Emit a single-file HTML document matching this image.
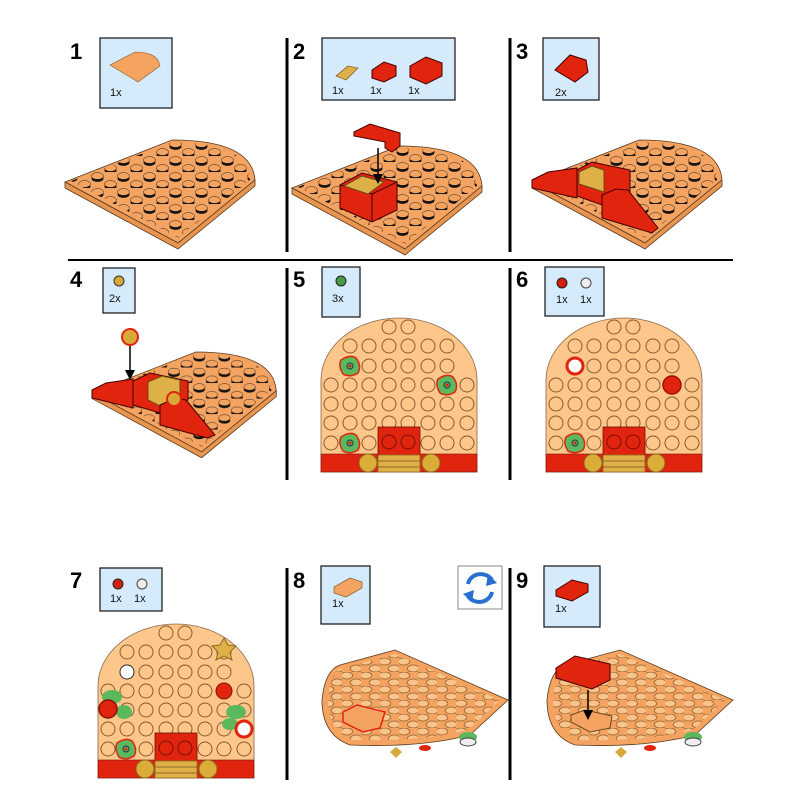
<!DOCTYPE html>
<html><head><meta charset="utf-8"><style>
html,body{margin:0;padding:0;background:#fff}
svg{display:block}
text{font-family:"Liberation Sans",sans-serif}
</style></head><body>
<svg width="793" height="788" viewBox="0 0 793 788" xmlns="http://www.w3.org/2000/svg">
<defs>
<pattern id="iso" width="26" height="16" patternUnits="userSpaceOnUse">
<ellipse cx="6.5" cy="6.5" rx="6" ry="3.4" fill="#111"/>
<ellipse cx="6.5" cy="4" rx="6" ry="3.4" fill="#f4a460" stroke="#222" stroke-width="0.5"/>
<ellipse cx="19.5" cy="14.5" rx="6" ry="3.4" fill="#111"/>
<ellipse cx="19.5" cy="12" rx="6" ry="3.4" fill="#f4a460" stroke="#222" stroke-width="0.5"/>
</pattern>
<pattern id="under" width="19" height="14" patternUnits="userSpaceOnUse">
<ellipse cx="4.75" cy="3.5" rx="6" ry="3.5" fill="#f8c48c" stroke="#a8703a" stroke-width="1"/>
<ellipse cx="14.25" cy="10.5" rx="6" ry="3.5" fill="#f8c48c" stroke="#a8703a" stroke-width="1"/>
</pattern>
<g id="top">
<path d="M0,154 L0,62 A78,62 0 0 1 156,62 L156,154 Z" fill="#fdc68a" stroke="#8a6a4a" stroke-width="0.8"/>
<g fill="none" stroke="#8a5a30" stroke-width="1">
<circle cx="68" cy="9" r="7"/><circle cx="87" cy="9" r="7"/>
<circle cx="29" cy="28" r="7"/><circle cx="48" cy="28" r="7"/><circle cx="68" cy="28" r="7"/><circle cx="87" cy="28" r="7"/><circle cx="107" cy="28" r="7"/><circle cx="126" cy="28" r="7"/>
<circle cx="29" cy="48" r="7"/><circle cx="48" cy="48" r="7"/><circle cx="68" cy="48" r="7"/><circle cx="87" cy="48" r="7"/><circle cx="107" cy="48" r="7"/><circle cx="126" cy="48" r="7"/>
<circle cx="10" cy="67" r="7"/><circle cx="29" cy="67" r="7"/><circle cx="48" cy="67" r="7"/><circle cx="68" cy="67" r="7"/><circle cx="87" cy="67" r="7"/><circle cx="107" cy="67" r="7"/><circle cx="126" cy="67" r="7"/><circle cx="146" cy="67" r="7"/>
<circle cx="10" cy="86" r="7"/><circle cx="29" cy="86" r="7"/><circle cx="48" cy="86" r="7"/><circle cx="68" cy="86" r="7"/><circle cx="87" cy="86" r="7"/><circle cx="107" cy="86" r="7"/><circle cx="126" cy="86" r="7"/><circle cx="146" cy="86" r="7"/>
<circle cx="10" cy="105" r="7"/><circle cx="29" cy="105" r="7"/><circle cx="48" cy="105" r="7"/><circle cx="68" cy="105" r="7"/><circle cx="87" cy="105" r="7"/><circle cx="107" cy="105" r="7"/><circle cx="126" cy="105" r="7"/><circle cx="146" cy="105" r="7"/>
<circle cx="10" cy="125" r="7"/><circle cx="29" cy="125" r="7"/><circle cx="48" cy="125" r="7"/><circle cx="107" cy="125" r="7"/><circle cx="126" cy="125" r="7"/><circle cx="146" cy="125" r="7"/>
</g>
<rect x="0" y="136" width="156" height="18" fill="#e0240e" stroke="#7a1a10" stroke-width="0.6"/>
<rect x="57" y="109" width="42" height="30" fill="#e0240e" stroke="#6a1008" stroke-width="0.8"/>
<circle cx="68" cy="124" r="7" fill="none" stroke="#7a1008"/><circle cx="87" cy="124" r="7" fill="none" stroke="#7a1008"/>
<rect x="57" y="137" width="42" height="17" fill="#e0b048" stroke="#8a6a20" stroke-width="0.8"/>
<line x1="57" y1="143" x2="99" y2="143" stroke="#8a6a20"/><line x1="57" y1="149" x2="99" y2="149" stroke="#8a6a20"/>
<circle cx="47" cy="145" r="9" fill="#dcac38" stroke="#8a6a20"/><circle cx="110" cy="145" r="9" fill="#dcac38" stroke="#8a6a20"/>
</g>
<g id="green"><path d="M-9,-6 Q0,-12 6,-8 Q12,0 8,7 Q0,12 -7,8 Q-12,0 -9,-6Z" fill="#5cb85c" stroke="#e0240e" stroke-width="1.5"/><circle r="3" fill="none" stroke="#235"/><circle r="1.5" fill="#e0240e"/></g>
<g id="plate">
<path d="M0,42 L107,0 Q187,0 190,40 L113,103 Z" fill="#f4a460" stroke="#5a3a20" stroke-width="0.8"/>
<path d="M0,42 L113,103 L190,40 L190,46 L113,109 L0,48Z" fill="#e8954f" stroke="#5a3a20" stroke-width="0.8"/>
<path d="M6,41 L107,2 Q183,2 185,40 L113,98 Z" fill="url(#iso)"/>
</g>
</defs>

<!-- grid lines -->
<g stroke="#000" stroke-width="3">
<line x1="287" y1="38" x2="287" y2="252"/><line x1="510" y1="38" x2="510" y2="252"/>
<line x1="68" y1="260" x2="733" y2="260" stroke-width="2"/>
<line x1="287" y1="268" x2="287" y2="480"/><line x1="510" y1="268" x2="510" y2="480"/>
<line x1="287" y1="568" x2="287" y2="780"/><line x1="510" y1="568" x2="510" y2="780"/>
</g>

<!-- numbers -->
<g font-size="22" font-weight="bold" fill="#000">
<text x="70" y="59">1</text><text x="293" y="59">2</text><text x="516" y="59">3</text>
<text x="70" y="287">4</text><text x="293" y="287">5</text><text x="516" y="287">6</text>
<text x="70" y="588">7</text><text x="293" y="588">8</text><text x="516" y="588">9</text>
</g>

<!-- part boxes -->
<g fill="#d5ebfb" stroke="#222" stroke-width="1.3">
<rect x="100" y="38" width="72" height="70"/><rect x="322" y="38" width="133" height="62"/><rect x="543" y="38" width="56" height="62"/>
<rect x="103" y="268" width="32" height="45"/><rect x="322" y="267" width="38" height="50"/><rect x="545" y="267" width="59" height="49"/>
<rect x="100" y="568" width="62" height="43"/><rect x="321" y="566" width="49" height="58"/><rect x="544" y="566" width="56" height="61"/>
</g>
<rect x="458" y="566" width="44" height="43" fill="#fff" stroke="#888" stroke-width="1"/>
<g fill="none" stroke="#2a6fd0" stroke-width="4">
<path d="M468,584 A13,12 0 0 1 492,580"/><path d="M492,592 A13,12 0 0 1 468,596"/>
</g>
<path d="M488,574 L497,583 L486,586Z M472,602 L463,594 L474,590Z" fill="#2a6fd0"/>

<g font-size="11" fill="#111">
<text x="110" y="96">1x</text>
<text x="332" y="94">1x</text><text x="370" y="94">1x</text><text x="408" y="94">1x</text>
<text x="555" y="96">2x</text>
<text x="109" y="302">2x</text><text x="332" y="302">3x</text>
<text x="556" y="303">1x</text><text x="580" y="303">1x</text>
<text x="110" y="602">1x</text><text x="134" y="602">1x</text>
<text x="332" y="607">1x</text><text x="555" y="612">1x</text>
</g>
<!-- box icons -->
<path d="M110,65 L135,52 Q158,52 160,66 L138,82Z" fill="#f4a460" stroke="#8a5a30" stroke-width="0.6"/>
<path d="M336,76 L348,66 L358,68 L346,80Z" fill="#e0b048" stroke="#6a4a10" stroke-width="0.6"/>
<path d="M372,70 L384,62 L396,66 L396,76 L384,82 L372,78Z" fill="#e0240e" stroke="#400"/>
<path d="M410,66 L426,57 L442,63 L442,76 L426,84 L410,77Z" fill="#e0240e" stroke="#400"/>
<path d="M555,70 L570,55 L586,60 L588,72 L575,82Z" fill="#e0240e" stroke="#400"/>
<circle cx="119" cy="281" r="5" fill="#d8a838" stroke="#333"/>
<circle cx="341" cy="281" r="5" fill="#4a9a4a" stroke="#222"/>
<circle cx="562" cy="283" r="5" fill="#d02010" stroke="#222"/><circle cx="586" cy="283" r="5" fill="#eee" stroke="#444"/>
<circle cx="118" cy="584" r="5" fill="#d02010" stroke="#222"/><circle cx="142" cy="584" r="5" fill="#eee" stroke="#444"/>
<path d="M334,587 L350,578 L362,582 L362,588 L346,597 L334,593Z" fill="#f4a460" stroke="#6a4a20" stroke-width="0.6"/>
<path d="M556,590 L572,580 L588,584 L588,592 L572,601 L556,596Z" fill="#e0240e" stroke="#400"/>

<!-- Step1 -->
<use href="#plate" x="65" y="140"/>

<!-- Step2 -->
<use href="#plate" x="292" y="146"/>
<path d="M340,185 L362,173 L397,182 L397,210 L372,222 L340,208Z" fill="#e0240e" stroke="#400"/>
<path d="M340,185 L372,194 L397,182 M372,194 L372,222" fill="none" stroke="#400"/>
<path d="M344,186 L362,176 L384,182 L368,194Z" fill="#e0b048" stroke="#6a4a10"/>
<path d="M354,132 L370,124 L400,133 L400,146 L392,152 L385,148 L385,142 L354,136Z" fill="#e0240e" stroke="#400"/>
<line x1="378" y1="148" x2="378" y2="176" stroke="#000" stroke-width="1.5"/><path d="M373,174 L378,184 L383,174Z"/>

<!-- Step3 -->
<use href="#plate" x="532" y="140"/>
<path d="M532,180 L548,172 L577,168 L577,198 L532,188Z" fill="#e0240e" stroke="#400"/>
<path d="M577,170 L592,162 L630,170 L630,192 L602,205 L577,196Z" fill="#e0240e" stroke="#400"/>
<path d="M579,172 L592,166 L604,170 L604,192 L579,184Z" fill="#e0b048" stroke="#6a4a10"/>
<path d="M602,195 L616,189 L628,190 L658,228 L652,233 L602,218Z" fill="#e0240e" stroke="#400"/>

<!-- Step4 -->
<use href="#plate" x="92" y="352" transform="translate(92,352) scale(0.97) translate(-92,-352)"/>
<path d="M92,390 L106,383 L133,379 L133,408 L92,398Z" fill="#e0240e" stroke="#400"/>
<path d="M133,381 L150,373 L188,381 L188,400 L160,413 L133,405Z" fill="#e0240e" stroke="#400"/>
<path d="M148,382 L162,376 L180,380 L180,398 L160,406 L148,400Z" fill="#e0b048" stroke="#6a4a10"/>
<path d="M160,405 L176,398 L186,400 L215,435 L207,438 L160,425Z" fill="#e0240e" stroke="#400"/>
<circle cx="174" cy="399" r="7" fill="#d8a838" stroke="#e0240e" stroke-width="2"/>
<circle cx="130" cy="337" r="8" fill="#d8a838" stroke="#e0240e" stroke-width="2"/>
<line x1="130" y1="346" x2="130" y2="372" stroke="#000" stroke-width="1.5"/><path d="M125,370 L130,380 L135,370Z"/>

<!-- Step5 -->
<use href="#top" x="321" y="318"/>
<use href="#green" x="350" y="366"/><use href="#green" x="447" y="385"/><use href="#green" x="350" y="443"/>

<!-- Step6 -->
<use href="#top" x="546" y="318"/>
<circle cx="575" cy="366" r="8" fill="#fff" stroke="#e0240e" stroke-width="3"/>
<circle cx="672" cy="385" r="9" fill="#e0240e" stroke="#a01008" stroke-width="1.5"/>
<use href="#green" x="575" y="443"/>

<!-- Step7 -->
<use href="#top" x="98" y="624"/>
<path d="M224,638 L228,645 L236,646 L230,652 L232,660 L224,656 L216,660 L218,652 L212,646 L220,645Z" fill="#e0b048" stroke="#8a6a20"/>
<circle cx="127" cy="672" r="7" fill="#fff" stroke="#333"/>
<circle cx="224" cy="691" r="8" fill="#e0240e" stroke="#8a1008"/>
<ellipse cx="112" cy="697" rx="10" ry="7" fill="#5cb85c"/><ellipse cx="124" cy="712" rx="8" ry="7" fill="#5cb85c"/>
<circle cx="108" cy="709" r="9" fill="#e0240e" stroke="#8a1008" stroke-width="1.5"/>
<ellipse cx="236" cy="712" rx="10" ry="7" fill="#5cb85c"/><ellipse cx="230" cy="724" rx="8" ry="6" fill="#5cb85c"/>
<circle cx="244" cy="729" r="8" fill="#fff" stroke="#e0240e" stroke-width="3"/>
<use href="#green" x="126" y="749"/>

<!-- Step8 -->
<path d="M322,700 Q325,670 340,665 L395,650 L508,700 L470,735 Q420,748 350,745 Q322,735 322,700Z" fill="#f4a460" stroke="#5a3a20" stroke-width="0.8"/>
<path d="M328,700 Q330,672 342,668 L395,654 L500,700 L468,730 Q420,742 352,740 Q328,730 328,700Z" fill="url(#under)"/>
<path d="M343,712 L357,705 L385,712 L380,728 L363,732 L343,722Z" fill="#f4a460" stroke="#e0240e" stroke-width="1.5"/>
<path d="M390,752 L396,747 L402,752 L396,758Z" fill="#d8a838"/>
<ellipse cx="468" cy="737" rx="9" ry="5" fill="#5cb85c"/><ellipse cx="468" cy="742" rx="8" ry="4" fill="#eee" stroke="#444"/>
<ellipse cx="425" cy="748" rx="6" ry="3" fill="#e0240e"/>
<!-- Step9 -->
<path d="M547,700 Q550,670 565,665 L620,650 L733,700 L695,735 Q645,748 575,745 Q547,735 547,700Z" fill="#f4a460" stroke="#5a3a20" stroke-width="0.8"/>
<path d="M553,700 Q555,672 567,668 L620,654 L725,700 L693,730 Q645,742 577,740 Q553,730 553,700Z" fill="url(#under)"/>
<path d="M571,715 L585,710 L612,716 L610,728 L590,732 L571,722Z" fill="#f4a460" stroke="#6a4a20"/>
<path d="M556,668 L575,656 L610,664 L610,680 L592,689 L556,678Z" fill="#e0240e" stroke="#400"/>
<line x1="588" y1="690" x2="588" y2="712" stroke="#000" stroke-width="1.5"/><path d="M583,710 L588,720 L593,710Z"/>
<path d="M615,752 L621,747 L627,752 L621,758Z" fill="#d8a838"/>
<ellipse cx="693" cy="737" rx="9" ry="5" fill="#5cb85c"/><ellipse cx="693" cy="742" rx="8" ry="4" fill="#eee" stroke="#444"/>
<ellipse cx="650" cy="748" rx="6" ry="3" fill="#e0240e"/>
</svg>
</body></html>
